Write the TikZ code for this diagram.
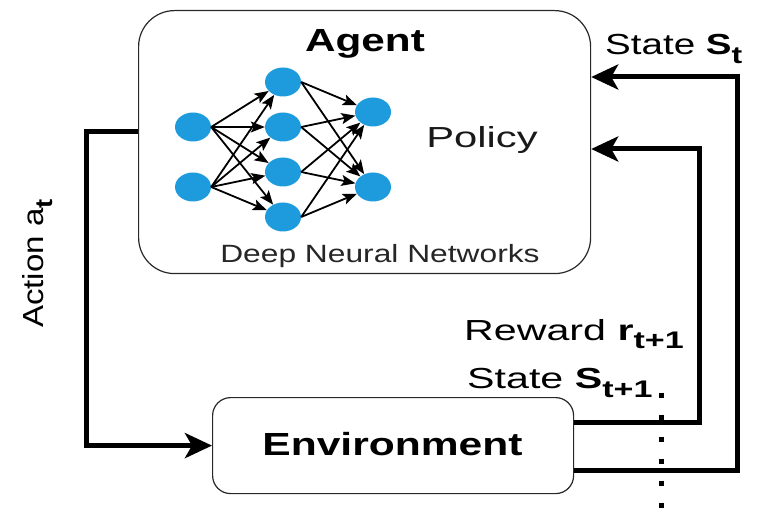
\documentclass[tikz,border=0pt]{standalone}
\usepackage{fontspec}
\setmainfont{Liberation Sans}
\usetikzlibrary{arrows.meta,shapes.geometric}
\definecolor{nnblue}{RGB}{30,155,220}
\definecolor{edgegray}{RGB}{40,40,40}

% lowered bold index used in the state / reward / action labels
\newcommand{\lowsub}[1]{\raisebox{-9pt}{\fontsize{24pt}{24pt}\selectfont\bfseries #1}}

\begin{document}
\begin{tikzpicture}[x=1pt,y=-1pt,
  box/.style={draw=edgegray, line width=1.2pt, rounded corners=#1, inner sep=0pt},
  neuron/.style={ellipse, fill=nnblue, draw=none, minimum width=36pt, minimum height=29pt, inner sep=0pt},
  syn/.style={-{Stealth[length=14pt,width=11pt,inset=3pt]}, line width=1.8pt},
  flow/.style={line width=5pt, -{Stealth[length=27pt,width=25pt,inset=7pt]}},
  txt/.style={inner sep=0pt, anchor=base},
]
\useasboundingbox (0,0) rectangle (757,510);

% agent and environment boxes
\node[box=36pt, minimum width=452pt, minimum height=263pt, anchor=north west] (agent) at (138,10) {};
\node[box=18pt, minimum width=361pt, minimum height=96pt, anchor=north west] (env) at (212,397) {};

% neural network
\node[neuron] (i1) at (193,127) {};
\node[neuron] (i2) at (193,187) {};
\node[neuron] (h1) at (283,82) {};
\node[neuron] (h2) at (283,127) {};
\node[neuron] (h3) at (283,172) {};
\node[neuron] (h4) at (283,217) {};
\node[neuron] (o1) at (373,112) {};
\node[neuron] (o2) at (373,187) {};
\foreach \a in {i1,i2}
  \foreach \b in {h1,h2,h3,h4}
    \draw[syn] (\a.east) -- (\b);
\foreach \a in {h1,h2,h3,h4}
  \foreach \b in {o1,o2}
    \draw[syn] (\a.east) -- (\b);

% texts inside the boxes
\node[txt, font=\fontsize{32pt}{32pt}\selectfont] (agentlbl) at (365,52) {\scalebox{1.32}[1]{\bfseries Agent}};
\node[txt, font=\fontsize{29pt}{29pt}\selectfont, text=black!90] (policy) at (482,148) {\scalebox{1.44}[1]{Policy}};
\node[txt, font=\fontsize{25pt}{25pt}\selectfont, text=black!85] (dnn) at (380,263) {\scalebox{1.27}[1]{Deep Neural Networks}};
\node[txt, font=\fontsize{32pt}{32pt}\selectfont] (envlbl) at (392.5,455) {\scalebox{1.33}[1]{\bfseries Environment}};

% action: agent -> environment
\draw[flow] (agent.west |- 0,132) -- ++(-52,0) |- (env.west);
% reward and next state: environment -> agent
\draw[flow] (env.east |- 0,422) -- ++(125,0) |- (agent.east |- 0,149);
\draw[flow] (env.east |- 0,470) -- ++(163,0) |- (agent.east |- 0,77);

% continuation dots
\coordinate (dtop) at (661,392.5);
\coordinate (dbot) at (661,512);
\draw[line width=5pt, dash pattern=on 5pt off 17pt] (dtop) -- (dbot);

% labels
\node[txt, anchor=base west, font=\fontsize{29pt}{29pt}\selectfont] (lst) at (605,55)
  {\scalebox{1.33}[1]{State \textbf{S}\lowsub{t}}};
\node[txt, anchor=base west, font=\fontsize{29pt}{29pt}\selectfont] (lrw) at (464,340)
  {\scalebox{1.42}[1]{Reward \textbf{r}\lowsub{t+1}}};
\node[txt, anchor=base west, font=\fontsize{29pt}{29pt}\selectfont] (lsn) at (467,388)
  {\scalebox{1.42}[1]{State \textbf{S}\lowsub{t+1}}};
\node[txt, anchor=base west, rotate=90, font=\fontsize{29pt}{29pt}\selectfont] (lac) at (43,328)
  {\scalebox{1.14}[1]{Action a\lowsub{t}}};
\end{tikzpicture}
\end{document}
